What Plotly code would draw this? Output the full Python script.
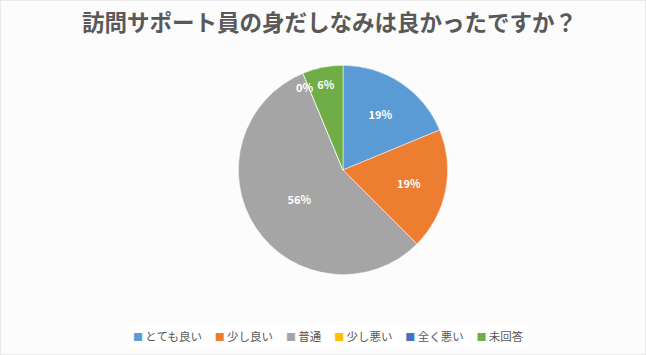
import math
import plotly.graph_objects as go

title_text = "訪問サポート員の身だしなみは良かったですか？"
categories = ["とても良い", "少し良い", "普通", "少し悪い", "全く悪い", "未回答"]
values = [3, 3, 9, 0, 0, 1]
colors = ["#5B9BD5", "#ED7D31", "#A5A5A5", "#FFC000", "#4472C4", "#70AD47"]

dom_x = [0.369, 0.693]
dom_y = [0.2254, 0.817]

fig = go.Figure(go.Pie(
    labels=categories,
    values=values,
    sort=False,
    direction="clockwise",
    rotation=0,
    marker=dict(colors=colors, line=dict(color="white", width=0.5)),
    texttemplate="<b>%{percent:.0%}</b>",
    textposition="inside",
    insidetextorientation="horizontal",
    textfont=dict(color="white", size=11, family="Noto Sans CJK JP"),
    hoverinfo="label+percent",
    domain=dict(x=dom_x, y=dom_y),
    showlegend=False,
))

# label for zero-value slices (plotly does not draw them); placed at their angle
W, H = 646, 355
total = sum(values)
cx = (dom_x[0] + dom_x[1]) / 2 * W
cy = (dom_y[0] + dom_y[1]) / 2 * H
rad = min((dom_x[1] - dom_x[0]) * W, (dom_y[1] - dom_y[0]) * H) / 2
annotations = []
cum = 0
zero_done = False
for v in values:
    if v == 0 and not zero_done:
        ang = math.pi / 2 - 2 * math.pi * cum / total
        px = cx + 0.96 * rad * math.cos(ang)
        py = cy + 0.96 * rad * math.sin(ang)
        annotations.append(dict(x=px / W, y=py / H, xref="paper", yref="paper",
                                text="<b>0%</b>", showarrow=False,
                                font=dict(color="white", size=11, family="Noto Sans CJK JP")))
        zero_done = True
    cum += v

# legend built from the category and colour lists
gap = "\u00a0" * 5
legend_text = gap.join(
    f"<span style='color:{col};font-size:10px'>■</span>\u2009{cat}"
    for cat, col in zip(categories, colors)
)
annotations.append(dict(x=0.508, y=0.053, xref="paper", yref="paper", xanchor="center",
                        yanchor="middle", text=legend_text, showarrow=False,
                        bgcolor="white", borderpad=4,
                        font=dict(size=11.5, color="#595959", family="Noto Sans CJK JP")))

fig.update_layout(
    width=W, height=H,
    margin=dict(l=0, r=0, t=0, b=0),
    paper_bgcolor="#fcfcfc",
    font=dict(family="Noto Sans CJK JP", color="#595959"),
    title=dict(text="<b>" + title_text + "</b>", x=0.51, xanchor="center",
               y=0.935, yanchor="middle",
               font=dict(size=22.5, color="#595959", family="Noto Sans CJK JP")),
    annotations=annotations,
    shapes=[dict(type="rect", xref="paper", yref="paper", x0=0, y0=0, x1=1, y1=1,
                 line=dict(color="#d9d9d9", width=1))],
)

fig.write_html("out.html", config={"displayModeBar": False},
               post_script="document.body.style.margin='0';")
